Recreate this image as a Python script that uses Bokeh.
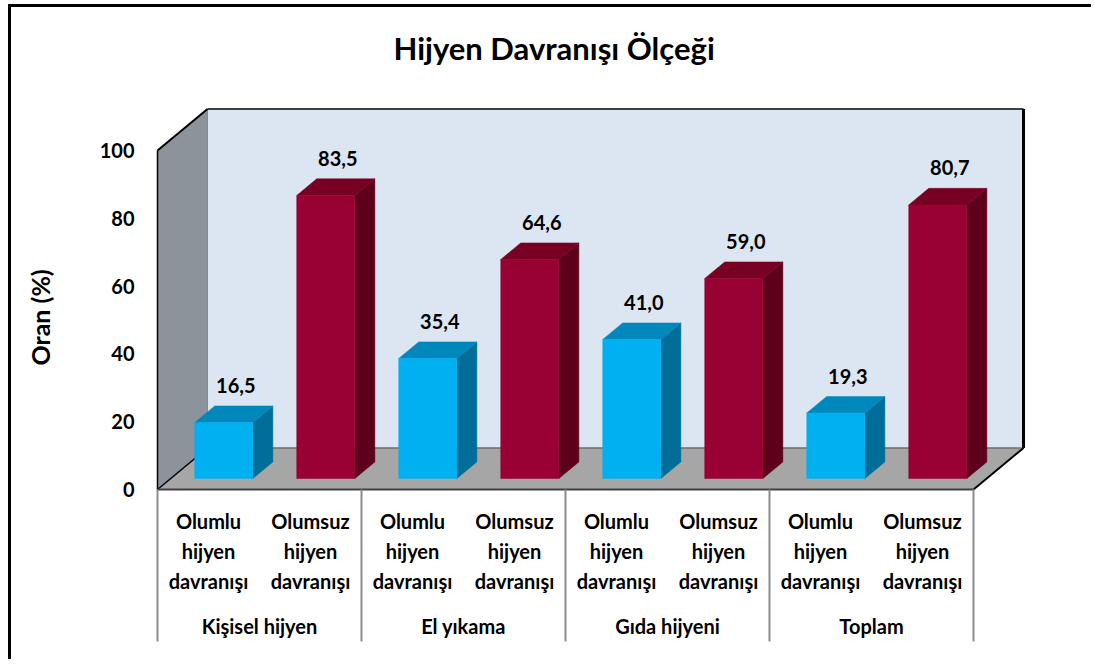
from bokeh.plotting import figure
from bokeh.models import Range1d, FixedTicker, LinearAxis, Title
from bokeh.core.properties import value
from bokeh.embed import file_html
from bokeh.resources import INLINE

# ---------------- data ----------------
title_text = "Hijyen Davranışı Ölçeği"
y_axis_title = "Oran (%)"
groups = ["Kişisel hijyen", "El yıkama", "Gıda hijyeni", "Toplam"]
subcats = ["Olumlu hijyen davranışı", "Olumsuz hijyen davranışı"]
olumlu = [16.5, 35.4, 41.0, 19.3]
olumsuz = [83.5, 64.6, 59.0, 80.7]
y_ticks = [0, 20, 40, 60, 80, 100]

# ---------------- layout / style ----------------
OX, OY = 11, 7            # page position of the canvas
W, H = 1083, 655
MBL, MBT = 139, 78
FW, FH = W - MBL, H - MBT
PX_X = 102.0              # px per category slot
PX_Y = 3.39               # px per value unit
ORIG_X, ORIG_Y = 157, 489 # page px of data (0, 0)
X0 = (OX + MBL - ORIG_X) / PX_X
Y1 = (ORIG_Y - (OY + MBT)) / PX_Y
x_range = Range1d(X0, X0 + FW / PX_X)
y_range = Range1d(Y1 - FH / PX_Y, Y1)

DX = 50 / PX_X            # depth vector in data units
DY = 41.5 / PX_Y
YMAX = 100
NSLOT = 2 * len(groups)

FONT = value("Lato")
BLUE = ("#00b0f0", "#0087bb", "#006e98")
RED = ("#990033", "#770023", "#5e001b")

p = figure(width=W, height=H, x_range=x_range, y_range=y_range,
           output_backend="svg", toolbar_location=None,
           x_axis_location=None, min_border_left=MBL, min_border_top=MBT,
           min_border_right=0, min_border_bottom=0, title=title_text)
p.styles = {"margin-left": f"{OX}px", "margin-top": f"{OY}px",
            "box-shadow": "-3px -3px 0 0 #000000"}
p.grid.visible = False
p.outline_line_color = None
p.background_fill_color = "white"
p.border_fill_color = "white"

p.title.align = "left"
p.title.offset = 243
p.title.standoff = 38
p.title.text_font = "Lato"
p.title.text_font_size = "31px"
p.title.text_font_style = "bold"
p.title.text_color = "#000000"

ax = p.yaxis[0]
ax.ticker = FixedTicker(ticks=y_ticks)
ax.axis_line_color = None
ax.major_tick_line_color = None
ax.minor_tick_line_color = None
ax.major_label_standoff = 10
ax.major_label_text_font = "Lato"
ax.major_label_text_font_style = "bold"
ax.major_label_text_font_size = "20px"
ax.major_label_text_color = "#000000"

# invisible spacer so that the vertical axis title sits at the far left
spacer = LinearAxis(ticker=FixedTicker(ticks=[50]), axis_line_color=None,
                    major_tick_line_color=None, minor_tick_line_color=None,
                    major_tick_in=0, major_tick_out=39, minor_tick_in=0,
                    minor_tick_out=0, major_label_standoff=0,
                    major_label_overrides={50: ""})
p.add_layout(spacer, "left")
p.add_layout(Title(text=y_axis_title, align="left", offset=297,
                   vertical_align="middle", standoff=4, text_font="Lato",
                   text_font_size="25px", text_font_style="bold",
                   text_color="#000000"), "left")

# ---------------- walls and floor ----------------
p.patch([0, 0, DX, DX], [0, YMAX, YMAX + DY, DY], fill_color="#8c939b", line_color=None)
p.patch([DX, DX, NSLOT + DX, NSLOT + DX], [DY, YMAX + DY, YMAX + DY, DY],
        fill_color="#dce6f2", line_color=None)
p.patch([0, NSLOT, NSLOT + DX, DX], [0, 0, DY, DY], fill_color="#a6a6a6", line_color=None)

p.line([DX, DX], [DY, YMAX + DY], line_color="#8a8a8a", line_width=1)
p.line([DX, NSLOT + DX], [DY, DY], line_color="#6e6e6e", line_width=1.5)
p.line([DX, NSLOT + DX], [YMAX + DY, YMAX + DY], line_color="#404040", line_width=2)
p.line([NSLOT + DX, NSLOT + DX], [DY, YMAX + DY], line_color="#000000", line_width=3)
p.line([0, DX], [YMAX, YMAX + DY], line_color="#000000", line_width=2)
p.line([0, DX], [0, DY], line_color="#000000", line_width=1.5)
p.line([0, 0], [0, YMAX], line_color="#000000", line_width=1.5)
p.line([NSLOT, NSLOT + DX], [0, DY], line_color="#000000", line_width=2)

# ---------------- bars ----------------
F0, F1 = 0.265, 0.665      # depth position of bar front / back
BW = 0.57
COFF = 0.52
slots, vals, cols = [], [], []
for g in range(len(groups)):
    slots += [2 * g, 2 * g + 1]
    vals += [olumlu[g], olumsuz[g]]
    cols += [BLUE, RED]

fx, fy, fc = [], [], []
for s, v, c in zip(slots, vals, cols):
    xl = s + COFF - BW / 2
    xr = s + COFF + BW / 2
    a0x, a0y = F0 * DX, F0 * DY
    a1x, a1y = F1 * DX, F1 * DY
    fx.append([xr + a0x, xr + a0x, xr + a1x, xr + a1x])
    fy.append([a0y, v + a0y, v + a1y, a1y])
    fc.append(c[2])
    fx.append([xl + a0x, xr + a0x, xr + a1x, xl + a1x])
    fy.append([v + a0y, v + a0y, v + a1y, v + a1y])
    fc.append(c[1])
    fx.append([xl + a0x, xr + a0x, xr + a0x, xl + a0x])
    fy.append([a0y, a0y, v + a0y, v + a0y])
    fc.append(c[0])
p.patches(fx, fy, fill_color=fc, line_color=fc, line_width=0.5)

lx = [s + COFF + F0 * DX + 12 / PX_X for s in slots]
ly = [v + F0 * DY + 37 / PX_Y for v in vals]
lt = [f"{v:.1f}".replace(".", ",") for v in vals]
p.text(lx, ly, text=lt, text_font=FONT, text_font_style="bold", text_font_size="20px",
       text_align="center", text_baseline="middle", text_color="#000000")

# ---------------- category axis (drawn) ----------------
p.line([0, NSLOT], [0, 0], line_color="#404040", line_width=2)
div_x = [2 * g for g in range(len(groups) + 1)]
p.segment(x0=div_x, y0=[0] * len(div_x), x1=div_x, y1=[-152 / PX_Y] * len(div_x),
          line_color="#8c8c8c", line_width=2)

sx, sy, st = [], [], []
for s in slots:
    words = subcats[s % 2].split(" ")
    for k, w in enumerate(words):
        sx.append(s + 0.5)
        sy.append(-(31 + 30 * k) / PX_Y)
        st.append(w)
p.text(sx, sy, text=st, text_font=FONT, text_font_style="bold", text_font_size="20px",
       text_align="center", text_baseline="middle", text_color="#000000")

gx = [2 * g + 1 for g in range(len(groups))]
gy = [-136 / PX_Y] * len(groups)
p.text(gx, gy, text=groups, text_font=FONT, text_font_style="bold", text_font_size="20px",
       text_align="center", text_baseline="middle", text_color="#000000")

open("out.html", "w").write(file_html(p, INLINE))
